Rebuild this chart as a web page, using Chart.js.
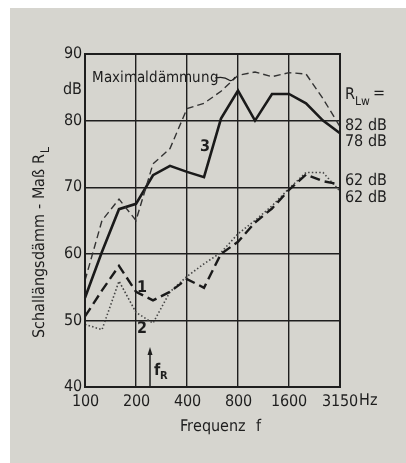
<!DOCTYPE html>
<html>
<head>
<meta charset="utf-8">
<script src="https://cdn.jsdelivr.net/npm/chart.js@4/dist/chart.umd.min.js"></script>
<style>
  @font-face { font-family: 'Schmal'; src: local('DejaVu Sans Condensed'), local('DejaVuSansCondensed'), local('Liberation Sans Narrow'), local('LiberationSansNarrow-Regular'); }
  @font-face { font-family: 'Schmal'; font-weight: bold; src: local('DejaVu Sans Condensed Bold'), local('DejaVuSansCondensed-Bold'), local('Liberation Sans Narrow Bold'); }
  html, body { margin: 0; padding: 0; background: #d6d5cf; overflow: hidden; }
  #wrap { width: 406px; height: 463px; }
</style>
</head>
<body>
<div id="wrap"><canvas id="line_chart" width="406" height="463"></canvas></div>
<script>
// terzband frequencies (Hz)
const frequenzen = ['100', '125', '160', '200', '250', '315', '400', '500', '630', '800', '1000', '1250', '1600', '2000', '2500', '3150'];
const xTickLabels = ['100', '200', '400', '800', '1600', '3150'];
const yTicks = [40, 50, 60, 70, 80, 90];

// Schall-Längsdämm-Maß R_L in dB
const maximaldaemmung = [56, 65, 68.2, 65, 73.5, 75.8, 81.8, 82.6, 84.4, 86.8, 87.3, 86.6, 87.2, 87, 83.3, 79.1];
const kurve3 = [53.4, 60.3, 66.7, 67.5, 71.8, 73.2, 72.3, 71.5, 80.3, 84.5, 80, 84, 84, 82.6, 80, 78.1];
const kurve1 = [50.6, 54.5, 58.2, 54.3, 53.0, 54.3, 56.2, 54.9, 60.0, 61.8, 64.7, 66.8, 69.6, 71.9, 70.9, 70.4];
const kurve2 = [49.4, 48.6, 55.9, 51.2, 49.6, 54.3, 56.6, 58.5, 60.2, 63.0, 65.0, 67.2, 69.8, 72.2, 72.2, 69.4];

const ink = '#1e1e1e';
const fontFam = 'Schmal, "DejaVu Sans Condensed", "Liberation Sans Narrow", "DejaVu Sans", sans-serif';

const paperPlugin = {
    id: 'paper',
    beforeDraw(chart) {
        const c = chart.ctx;
        c.save();
        c.fillStyle = '#ffffff';
        c.fillRect(0, 0, 2000, 2000);
        c.fillStyle = '#d6d5cf';
        c.fillRect(10, 8, 2000, 2000);
        c.restore();
    },
    afterDraw(chart) {
        const c = chart.ctx;
        const a = chart.chartArea;
        const x = chart.scales.x;
        c.save();
        // frame
        c.strokeStyle = ink;
        c.lineWidth = 2;
        c.strokeRect(a.left, a.top, a.right - a.left, a.bottom - a.top);

        c.fillStyle = ink;
        c.font = '16px ' + fontFam;
        c.textBaseline = 'middle';

        // unit at y axis
        c.textAlign = 'right';
        c.fillText('dB', 82, 90);

        // Hz after last tick
        c.textAlign = 'left';
        c.fillText('Hz', 359, 401);

        // Maximaldämmung label + leader
        c.font = '14.5px ' + fontFam;
        c.fillText('Maximaldämmung', 92, 78);
        c.lineWidth = 1.2;
        c.beginPath();
        c.moveTo(215, 78);
        c.quadraticCurveTo(224, 76, 229, 80);
        c.quadraticCurveTo(232, 82, 235, 77);
        c.stroke();

        // R_Lw =
        c.font = '16px ' + fontFam;
        c.fillText('R', 345, 95);
        c.font = '12px ' + fontFam;
        c.fillText('Lw', 355, 102);
        c.font = '16px ' + fontFam;
        c.fillText('=', 373, 94);

        c.fillText('82 dB', 345, 126);
        c.fillText('78 dB', 345, 142);
        c.fillText('62 dB', 345, 181);
        c.fillText('62 dB', 345, 198);

        // curve numbers
        c.font = 'bold 16px ' + fontFam;
        c.textAlign = 'center';
        c.fillText('3', 205, 147);
        c.fillText('1', 142, 288);
        c.fillText('2', 142, 329);

        // f_R arrow at 250 Hz
        const fx = x.getPixelForValue(4) - 3;
        c.lineWidth = 1.5;
        c.beginPath();
        c.moveTo(fx, a.bottom);
        c.lineTo(fx, 352);
        c.stroke();
        c.beginPath();
        c.moveTo(fx, 347);
        c.lineTo(fx - 2.5, 355);
        c.lineTo(fx + 2.5, 355);
        c.closePath();
        c.fill();
        c.textAlign = 'left';
        c.font = 'bold 16px ' + fontFam;
        c.fillText('f', fx + 4, 371);
        c.font = 'bold 11px ' + fontFam;
        c.fillText('R', fx + 10, 376);

        // y title
        c.save();
        c.translate(40, 242);
        c.rotate(-Math.PI / 2);
        c.textAlign = 'center';
        c.font = '16px ' + fontFam;
        const t = 'Schallängsdämm - Maß R';
        const w = c.measureText(t).width;
        c.fillText(t, -4, 0);
        c.font = '12px ' + fontFam;
        c.textAlign = 'left';
        c.fillText('L', -4 + w / 2 + 1, 6);
        c.restore();

        // x title
        c.textAlign = 'center';
        c.font = '16px ' + fontFam;
        c.fillText('Frequenz  f', 220, 427);
        c.restore();
    }
};

function getChartJs() {
    return {
        type: 'line',
        data: {
            labels: frequenzen,
            datasets: [
                {
                    label: 'Maximaldämmung',
                    data: maximaldaemmung,
                    borderColor: '#333333',
                    borderWidth: 1.4,
                    borderDash: [7, 4]
                },
                {
                    label: '3',
                    data: kurve3,
                    borderColor: '#1a1a1a',
                    borderWidth: 2.6
                },
                {
                    label: '1',
                    data: kurve1,
                    borderColor: '#1a1a1a',
                    borderWidth: 2.4,
                    borderDash: [10, 5]
                },
                {
                    label: '2',
                    data: kurve2,
                    borderColor: '#444444',
                    borderWidth: 1.6,
                    borderDash: [1.5, 2.2]
                }
            ]
        },
        options: {
            responsive: false,
            animation: false,
            events: [],
            layout: { padding: { top: 54, right: 66, left: 0, bottom: 0 } },
            elements: { point: { radius: 0 }, line: { tension: 0, fill: false } },
            plugins: { legend: { display: false }, tooltip: { enabled: false } },
            scales: {
                x: {
                    type: 'category',
                    offset: false,
                    afterFit(s) { s.height = 76; },
                    border: { display: false },
                    grid: {
                        drawTicks: false,
                        color: (ctx) => xTickLabels.includes(frequenzen[ctx.index]) ? ink : 'rgba(0,0,0,0)',
                        lineWidth: 1.4
                    },
                    ticks: {
                        autoSkip: false,
                        maxRotation: 0,
                        padding: 5,
                        color: ink,
                        font: { family: fontFam, size: 16 },
                        callback: (v, i) => xTickLabels.includes(frequenzen[i]) ? frequenzen[i] : ''
                    }
                },
                y: {
                    min: yTicks[0],
                    max: yTicks[yTicks.length - 1],
                    afterFit(s) { s.width = 85; },
                    afterBuildTicks(s) { s.ticks = yTicks.map(v => ({ value: v })); },
                    border: { display: false },
                    grid: { drawTicks: false, color: ink, lineWidth: 1.4 },
                    ticks: {
                        padding: 3,
                        color: ink,
                        font: { family: fontFam, size: 16 }
                    }
                }
            }
        },
        plugins: [paperPlugin]
    };
}

Promise.all([
    document.fonts.load('16px Schmal'),
    document.fonts.load('bold 16px Schmal')
]).catch(() => null).then(() => {
    new Chart(document.getElementById('line_chart').getContext('2d'), getChartJs());
});
</script>
</body>
</html>
